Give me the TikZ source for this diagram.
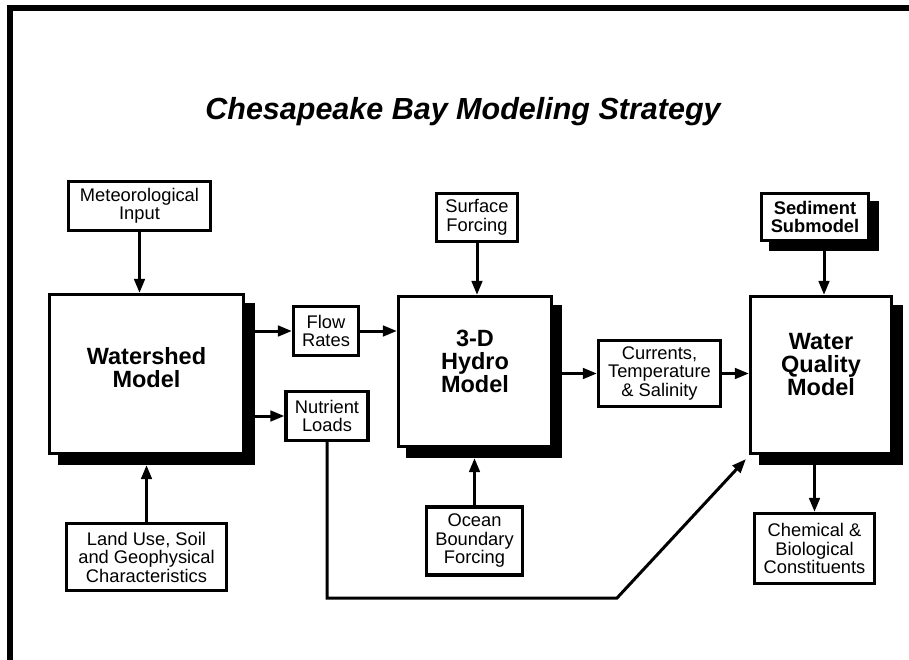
\documentclass[tikz,border=0pt]{standalone}
\usepackage{fontspec}
\setmainfont{Liberation Sans}
\usetikzlibrary{arrows.meta}
\begin{document}
\begin{tikzpicture}[x=1pt,y=-1pt,
  box/.style={draw=black, line width=3.2pt, fill=white, align=center, inner sep=0pt,
    font=\fontsize{18.3}{18.5}\selectfont},
  bigbox/.style={box, font=\bfseries\fontsize{23.5}{23}\selectfont},
  shadowbox/.style={fill=black, draw=black, line width=3.2pt, inner sep=0pt},
  arr/.style={line width=3pt, -{Triangle[length=14pt,width=10.5pt]}},
  frame/.style={line width=5.5pt}
]
\useasboundingbox (0,0) rectangle (909,660);
% frame
\coordinate (ftl) at (10,8);
\coordinate (ftr) at (909,8);
\coordinate (fbl) at (10,660);
\draw[frame] (ftr) -- (ftl) -- (fbl);

% title
\node[font=\bfseries\itshape\fontsize{30.5}{32}\selectfont] (title) at (463,112) {Chesapeake Bay Modeling Strategy};

% shadows
\node[shadowbox, minimum width=194, minimum height=159] (wsS) at (156.5,384) {};
\node[shadowbox, minimum width=153, minimum height=150] (hyS) at (484,381.5) {};
\node[shadowbox, minimum width=141, minimum height=157] (wqS) at (831,385) {};
\node[shadowbox, minimum width=107, minimum height=47] (sedS) at (824,226) {};

% boxes
\node[box, minimum width=142, minimum height=49] (met) at (139.5,206) {Meteorological\\Input};
\node[bigbox, minimum width=194, minimum height=159] (ws) at (146.5,374) {Watershed\\Model\\[-10pt]};
\node[box, minimum width=65, minimum height=49] (flow) at (326,331) {Flow\\Rates};
\node[box, minimum width=82, minimum height=49] (nut) at (327,416) {Nutrient\\Loads};
\node[box, minimum width=160, minimum height=67] (land) at (146.5,557) {Land Use, Soil\\and Geophysical\\Characteristics};
\node[bigbox, minimum width=153, minimum height=150] (hy) at (475,371.5) {3-D\\Hydro\\Model\\[-3pt]};
\node[box, minimum width=81, minimum height=48] (surf) at (477,217.5) {Surface\\Forcing};
\node[box, minimum width=96, minimum height=68] (ocean) at (474.5,541) {Ocean\\Boundary\\Forcing};
\node[box, minimum width=122, minimum height=66] (cur) at (659.5,373.5) {Currents,\\Temperature\\\& Salinity};
\node[bigbox, minimum width=141, minimum height=157] (wq) at (821,375) {Water\\Quality\\Model\\[-2pt]};
\node[box, font=\bfseries\fontsize{18.3}{18.5}\selectfont, minimum width=107, minimum height=47] (sed) at (815,217) {Sediment\\Submodel};
\node[box, minimum width=120, minimum height=70] (chem) at (814.5,548.5) {Chemical \&\\Biological\\Constituents};

% connectors
\coordinate (bend) at (617,598);
\draw[arr] (met.south) -- (met.south |- ws.north);
\draw[arr] (wsS.east |- flow.west) -- (flow.west);
\draw[arr] (flow.east) -- (flow.east -| hy.west);
\draw[arr] (wsS.east |- nut.west) -- (nut.west);
\draw[arr] (land.north) -- (land.north |- wsS.south);
\draw[arr] (surf.south) -- (surf.south |- hy.north);
\draw[arr] (ocean.north) -- (ocean.north |- hyS.south);
\draw[arr] (hyS.east |- cur.west) -- (cur.west);
\draw[arr] (cur.east) -- (cur.east -| wq.west);
\draw[arr] (sedS.south) -- (sedS.south |- wq.north);
\draw[arr] (chem.north |- wqS.south) -- (chem.north);
\draw[arr, line join=miter] (nut.south) |- (bend) -- ([shift={(-3,4)}]wq.south west);
\end{tikzpicture}
\end{document}
